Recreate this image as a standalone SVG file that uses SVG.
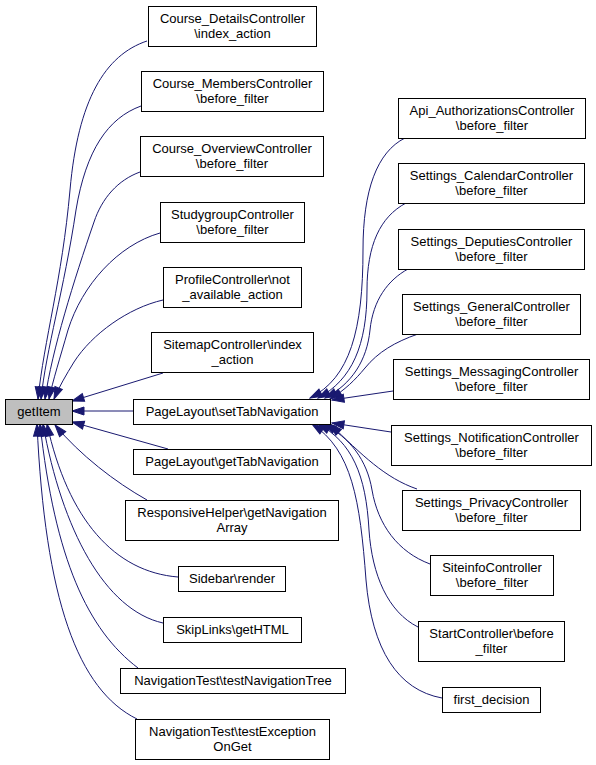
<svg xmlns="http://www.w3.org/2000/svg" width="596" height="765" viewBox="0 0 596 765">
<style>
.n rect{fill:#fff;stroke:#000;stroke-width:1}
.n text{font-family:"Liberation Sans",Arial,sans-serif;font-size:13px;text-anchor:middle;fill:#000}
.e path{fill:none;stroke:#191970;stroke-width:1;marker-end:url(#a)}
</style>
<defs>
<marker id="a" markerUnits="userSpaceOnUse" markerWidth="14" markerHeight="11" viewBox="0 0 14 11" refX="13" refY="5.5" orient="auto">
<path d="M1,1.5 L13,5.5 L1,9.5 Z" fill="#191970" stroke="#191970"/>
</marker>
</defs>
<rect width="596" height="765" fill="#fff"/>
<g id="connectors" class="e">
<path d="M147,41 C105,55 78,100 70,190 C62,280 44,340 38,399"/>
<path d="M141,106 C108,118 86,150 76,210 C64,290 46,350 41,399"/>
<path d="M140,172 C118,180 102,198 94,222 C74,280 52,350 45,399"/>
<path d="M160,233 C118,245 82,285 68,330 C60,358 53,380 49,399"/>
<path d="M163,300 C128,308 92,334 74,362 C66,375 59,387 54,399"/>
<path d="M163,373 L72,401"/>
<path d="M133,411 L72,411"/>
<path d="M168,449 L72,422"/>
<path d="M147,500 C115,482 80,455 55,425"/>
<path d="M178,577 C115,572 68,520 47,424"/>
<path d="M163,623 C105,610 62,530 43,424"/>
<path d="M138,668 C88,630 55,560 40,424"/>
<path d="M137,719 C78,690 45,600 37,424"/>
<path d="M405,138 C377,152 363,190 363,250 C363,330 350,378 310,398"/>
<path d="M406,203 C380,217 367,245 367,290 C367,345 352,380 318,398"/>
<path d="M408,269 C388,280 373,300 370,330 C367,360 352,384 325,398"/>
<path d="M418,334 C395,342 378,352 365,368 C355,380 345,390 330,399"/>
<path d="M393,391 L332,400"/>
<path d="M391,432 L332,423"/>
<path d="M417,489 C385,478 362,455 330,424"/>
<path d="M430,564 C398,552 378,525 372,490 C367,460 350,438 324,424"/>
<path d="M418,627 C388,612 372,575 369,530 C366,475 352,442 318,424"/>
<path d="M442,698 C398,690 372,650 366,580 C360,500 352,450 312,424"/>
</g>
<g id="getItem" class="n"><rect x="5.5" y="399.5" width="67" height="25" style="fill:#bfbfbf"/><text x="39" y="416">getItem</text></g>
<g id="n1" class="n"><rect x="148.5" y="6.5" width="168" height="40"/><text x="232.5" y="23">Course_DetailsController</text><text x="232.5" y="38">\index_action</text></g>
<g id="n2" class="n"><rect x="141.5" y="71.5" width="182" height="40"/><text x="232.5" y="88">Course_MembersController</text><text x="232.5" y="103">\before_filter</text></g>
<g id="n3" class="n"><rect x="140.5" y="136.5" width="183" height="40"/><text x="232" y="153">Course_OverviewController</text><text x="232" y="168">\before_filter</text></g>
<g id="n4" class="n"><rect x="160.5" y="202.5" width="144" height="40"/><text x="232.5" y="219">StudygroupController</text><text x="232.5" y="234">\before_filter</text></g>
<g id="n5" class="n"><rect x="163.5" y="267.5" width="138" height="40"/><text x="232.5" y="284">ProfileController\not</text><text x="232.5" y="299">_available_action</text></g>
<g id="n6" class="n"><rect x="151.5" y="332.5" width="162" height="40"/><text x="232.5" y="349">SitemapController\index</text><text x="232.5" y="364">_action</text></g>
<g id="n7" class="n"><rect x="133.5" y="399.5" width="197" height="25"/><text x="232" y="416">PageLayout\setTabNavigation</text></g>
<g id="n8" class="n"><rect x="133.5" y="449.5" width="197" height="25"/><text x="232" y="466">PageLayout\getTabNavigation</text></g>
<g id="n9" class="n"><rect x="125.5" y="500.5" width="213" height="40"/><text x="232" y="517">ResponsiveHelper\getNavigation</text><text x="232" y="532">Array</text></g>
<g id="n10" class="n"><rect x="178.5" y="566.5" width="107" height="25"/><text x="232" y="583">Sidebar\render</text></g>
<g id="n11" class="n"><rect x="163.5" y="617.5" width="138" height="25"/><text x="232.5" y="634">SkipLinks\getHTML</text></g>
<g id="n12" class="n"><rect x="120.5" y="668.5" width="225" height="25"/><text x="233" y="685">NavigationTest\testNavigationTree</text></g>
<g id="n13" class="n"><rect x="135.5" y="719.5" width="194" height="40"/><text x="232.5" y="736">NavigationTest\testException</text><text x="232.5" y="751">OnGet</text></g>
<g id="n14" class="n"><rect x="398.5" y="98.5" width="187" height="40"/><text x="492" y="115">Api_AuthorizationsController</text><text x="492" y="130">\before_filter</text></g>
<g id="n15" class="n"><rect x="398.5" y="163.5" width="186" height="40"/><text x="491.5" y="180">Settings_CalendarController</text><text x="491.5" y="195">\before_filter</text></g>
<g id="n16" class="n"><rect x="398.5" y="229.5" width="186" height="40"/><text x="491.5" y="246">Settings_DeputiesController</text><text x="491.5" y="261">\before_filter</text></g>
<g id="n17" class="n"><rect x="402.5" y="294.5" width="178" height="40"/><text x="491.5" y="311">Settings_GeneralController</text><text x="491.5" y="326">\before_filter</text></g>
<g id="n18" class="n"><rect x="393.5" y="359.5" width="196" height="40"/><text x="491.5" y="376">Settings_MessagingController</text><text x="491.5" y="391">\before_filter</text></g>
<g id="n19" class="n"><rect x="391.5" y="425.5" width="200" height="40"/><text x="491.5" y="442">Settings_NotificationController</text><text x="491.5" y="457">\before_filter</text></g>
<g id="n20" class="n"><rect x="402.5" y="490.5" width="178" height="40"/><text x="491.5" y="507">Settings_PrivacyController</text><text x="491.5" y="522">\before_filter</text></g>
<g id="n21" class="n"><rect x="430.5" y="555.5" width="123" height="40"/><text x="492" y="572">SiteinfoController</text><text x="492" y="587">\before_filter</text></g>
<g id="n22" class="n"><rect x="418.5" y="621.5" width="146" height="40"/><text x="491.5" y="638">StartController\before</text><text x="491.5" y="653">_filter</text></g>
<g id="n23" class="n"><rect x="442.5" y="687.5" width="98" height="25"/><text x="491.5" y="704">first_decision</text></g>
</svg>
